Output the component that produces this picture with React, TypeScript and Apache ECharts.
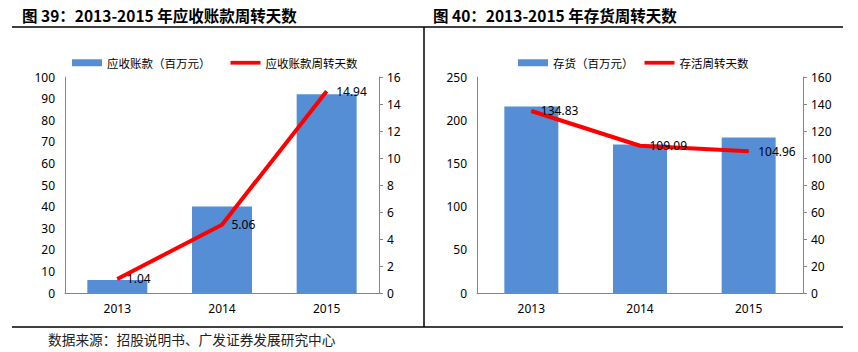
import React, { useEffect, useRef } from "react";
import * as echarts from "echarts";

const years = ["2013", "2014", "2015"];
const receivables = [6, 40, 92];
const receivableDays = [1.04, 5.06, 14.94];
const inventory = [216, 172, 180];
const inventoryDays = [134.83, 109.09, 104.96];

const title1 = "图 39：2013-2015 年应收账款周转天数";
const title2 = "图 40：2013-2015 年存货周转天数";
const source = "数据来源：招股说明书、广发证券发展研究中心";
const barName1 = "应收账款（百万元）";
const lineName1 = "应收账款周转天数";
const barName2 = "存货（百万元）";
const lineName2 = "存活周转天数";

const CJK = '"Noto Sans CJK SC", "Noto Sans", sans-serif';
const NUM = '"Noto Sans", "Liberation Sans", sans-serif';
const BAR = "#558ED5";
const RED = "#FF0000";
const AXIS = "#868686";
const LINE_ICON = "path://M0 0 L32 0 L32 4 L0 4 Z";

export default function App() {
  const ref = useRef<HTMLDivElement>(null);
  useEffect(() => {
    document.body.style.margin = "0";
    const chart = echarts.init(ref.current!, null, { renderer: "svg" });
    const axisLabel = { color: "#000", fontFamily: NUM, fontSize: 12 };
    const valAxisLeft = (gridIndex: number, max: number, interval: number) => ({
      type: "value",
      gridIndex,
      min: 0,
      max,
      interval,
      position: "left",
      axisLine: { show: true, lineStyle: { color: AXIS, width: 1 } },
      axisTick: { show: false },
      splitLine: { show: false },
      axisLabel: { ...axisLabel, margin: 10 },
    });
    const valAxisRight = (gridIndex: number, max: number, interval: number) => ({
      type: "value",
      gridIndex,
      min: 0,
      max,
      interval,
      position: "right",
      axisLine: { show: true, lineStyle: { color: AXIS, width: 1 } },
      axisTick: { show: true, length: 4, lineStyle: { color: AXIS } },
      splitLine: { show: false },
      axisLabel: { ...axisLabel, margin: 8 },
    });
    const catAxis = (gridIndex: number) => ({
      type: "category",
      gridIndex,
      data: years,
      axisLine: { show: true, lineStyle: { color: AXIS, width: 1 } },
      axisTick: { show: false },
      axisLabel: { ...axisLabel, margin: 9 },
    });
    const lineLabel = {
      show: true,
      position: "right",
      distance: 9,
      color: "#000",
      fontFamily: NUM,
      fontSize: 12,
    };
    const legendText = { color: "#000", fontFamily: CJK, fontSize: 11.5 };
    chart.setOption({
      animation: false,
      backgroundColor: "#fff",
      grid: [
        { left: 65, right: 479, top: 77, bottom: 59 },
        { left: 477, right: 55, top: 77, bottom: 59 },
      ],
      legend: [
        {
          left: 67,
          top: 52,
          itemWidth: 30,
          itemHeight: 7,
          itemGap: 20,
          textStyle: legendText,
          data: [
            { name: barName1, icon: "rect" },
            { name: lineName1, icon: LINE_ICON },
          ],
        },
        {
          left: 513,
          top: 52,
          itemWidth: 30,
          itemHeight: 7,
          itemGap: 11,
          textStyle: legendText,
          data: [
            { name: barName2, icon: "rect" },
            { name: lineName2, icon: LINE_ICON },
          ],
        },
      ],
      xAxis: [catAxis(0), catAxis(1)],
      yAxis: [
        valAxisLeft(0, 100, 10),
        valAxisRight(0, 16, 2),
        valAxisLeft(1, 250, 50),
        valAxisRight(1, 160, 20),
      ],
      series: [
        {
          name: barName1,
          type: "bar",
          xAxisIndex: 0,
          yAxisIndex: 0,
          data: receivables,
          barWidth: 60,
          itemStyle: { color: BAR },
        },
        {
          name: lineName1,
          type: "line",
          xAxisIndex: 0,
          yAxisIndex: 1,
          data: receivableDays,
          symbol: "circle",
          symbolSize: 1,
          showSymbol: true,
          lineStyle: { color: RED, width: 4 },
          itemStyle: { color: RED },
          label: lineLabel,
        },
        {
          name: barName2,
          type: "bar",
          xAxisIndex: 1,
          yAxisIndex: 2,
          data: inventory,
          barWidth: 54,
          itemStyle: { color: BAR },
        },
        {
          name: lineName2,
          type: "line",
          xAxisIndex: 1,
          yAxisIndex: 3,
          data: inventoryDays,
          symbol: "circle",
          symbolSize: 1,
          showSymbol: true,
          lineStyle: { color: RED, width: 4 },
          itemStyle: { color: RED },
          label: lineLabel,
        },
      ],
      graphic: [
        {
          type: "text",
          left: 22,
          top: 7,
          style: { text: title1, font: `bold 15.5px ${CJK}`, fill: "#000" },
        },
        {
          type: "text",
          left: 433,
          top: 7,
          style: { text: title2, font: `bold 15.5px ${CJK}`, fill: "#000" },
        },
        {
          type: "line",
          shape: { x1: 12, y1: 27, x2: 843, y2: 27 },
          style: { stroke: "#000", lineWidth: 1.5 },
        },
        {
          type: "line",
          shape: { x1: 424, y1: 27, x2: 424, y2: 327 },
          style: { stroke: "#000", lineWidth: 1.5 },
        },
        {
          type: "line",
          shape: { x1: 12, y1: 327, x2: 843, y2: 327 },
          style: { stroke: "#000", lineWidth: 1.5 },
        },
        {
          type: "text",
          left: 48,
          top: 332,
          style: { text: source, font: `13.7px ${CJK}`, fill: "#222" },
        },
      ],
    });
    return () => chart.dispose();
  }, []);
  return (
    <div
      ref={ref}
      style={{ position: "absolute", left: 0, top: 0, width: 858, height: 352 }}
    />
  );
}
